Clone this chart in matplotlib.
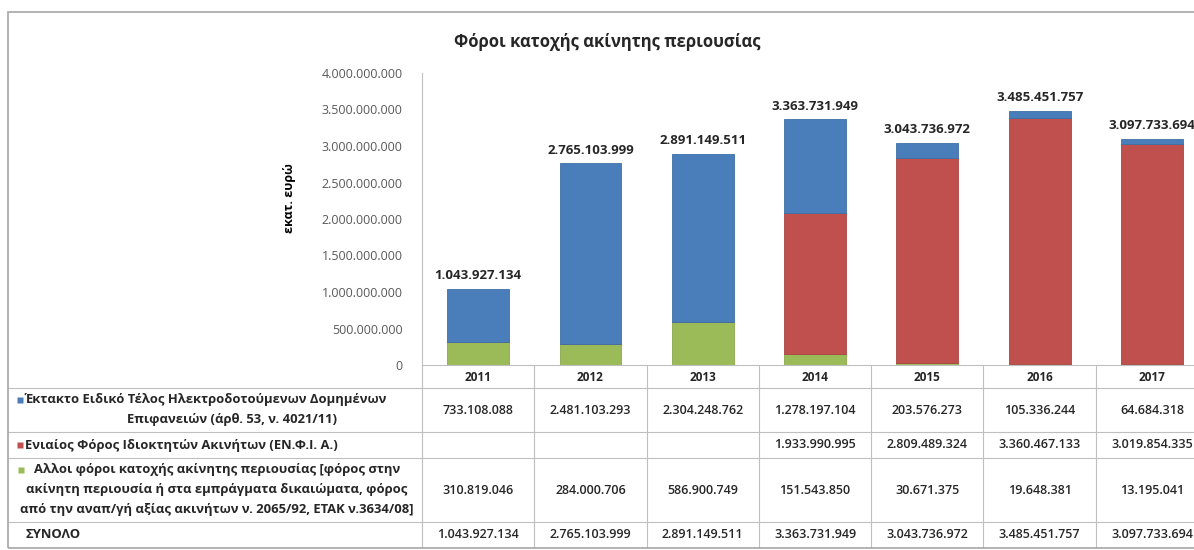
import matplotlib.pyplot as plt
from matplotlib.patches import Rectangle

plt.rcParams['font.family'] = ['Open Sans', 'DejaVu Sans']

years = ['2011', '2012', '2013', '2014', '2015', '2016', '2017']
ektakto = [733108088, 2481103293, 2304248762, 1278197104, 203576273, 105336244, 64684318]
enfia = [0, 0, 0, 1933990995, 2809489324, 3360467133, 3019854335]
alloi = [310819046, 284000706, 586900749, 151543850, 30671375, 19648381, 13195041]
totals = [1043927134, 2765103999, 2891149511, 3363731949, 3043736972, 3485451757, 3097733694]

row_labels = [
    ['Έκτακτο Ειδικό Τέλος Ηλεκτροδοτούμενων Δομημένων',
     'Επιφανειών (άρθ. 53, ν. 4021/11)'],
    ['Ενιαίος Φόρος Ιδιοκτητών Ακινήτων (ΕΝ.Φ.Ι. Α.)'],
    ['Αλλοι φόροι κατοχής ακίνητης περιουσίας [φόρος στην',
     'ακίνητη περιουσία ή στα εμπράγματα δικαιώματα, φόρος',
     'από την αναπ/γή αξίας ακινήτων ν. 2065/92, ΕΤΑΚ ν.3634/08]'],
    ['ΣΥΝΟΛΟ'],
]

blue = '#4a7ebb'
red = '#c0504d'
green = '#9bbb59'
gridc = '#bfbfbf'
txtc = '#262626'


def fmt(v):
    return f'{v:,}'.replace(',', '.')


W, H = 1194, 550
fig = plt.figure(figsize=(W / 100, H / 100), dpi=100)

# outer frame
fig.patches.append(Rectangle((8 / W, 2 / H), 1.2, (548 - 12) / H, transform=fig.transFigure,
                             fill=False, edgecolor='#a6a6a6', linewidth=1.2))

col_w = 112.3
x0 = 422
ax = fig.add_axes([x0 / W, (H - 365) / H, (W - x0) / W, (365 - 73) / H])
xs = range(len(years))
bw = 0.55
ax.bar(xs, alloi, bw, color=green, edgecolor='#8aa84e', linewidth=0.6)
ax.bar(xs, enfia, bw, bottom=alloi, color=red, edgecolor='#a94542', linewidth=0.6)
bottom2 = [a + b for a, b in zip(alloi, enfia)]
ax.bar(xs, ektakto, bw, bottom=bottom2, color=blue, edgecolor='#3f6fa6', linewidth=0.6)
for x, t in zip(xs, totals):
    ax.text(x, t + 90e6, fmt(t), ha='center', va='bottom', fontsize=9.5, fontweight='bold', color=txtc)

ax.set_xlim(-0.5, -0.5 + (W - x0) / col_w)
ax.set_ylim(0, 4e9)
ax.set_yticks([i * 5e8 for i in range(9)])
ax.set_yticklabels([fmt(int(i * 5e8)) for i in range(9)], fontsize=9, color='#595959')
ax.set_xticks([])
for s in ['top', 'right']:
    ax.spines[s].set_visible(False)
ax.spines['left'].set_color(gridc)
ax.spines['bottom'].set_color(gridc)
ax.tick_params(axis='y', length=0, pad=14)
ax.set_ylabel('εκατ. ευρώ', fontsize=9, fontweight='bold', labelpad=0)
ax.yaxis.set_label_coords(-126 / (W - x0), 0.57)
ax.patch.set_alpha(0)

fig.text(607 / W, 1 - 42 / H, 'Φόροι κατοχής ακίνητης περιουσίας', ha='center', va='center',
         fontsize=12, fontweight='bold', color=txtc)

# data table below the plot
tx0 = 8
tab = fig.add_axes([tx0 / W, (H - 548) / H, (W - tx0) / W, (548 - 365) / H])
tab.set_xlim(-0.5 - (x0 - tx0) / col_w, -0.5 + (W - x0) / col_w)
tab.set_ylim(548, 365)
tab.axis('off')

row_edges = [365, 388, 432, 458, 522, 548]
left_x = -0.5 - (x0 - tx0) / col_w
right_x = -0.5 + 7
for y in row_edges[1:-1]:
    tab.plot([left_x, right_x], [y, y], color=gridc, lw=0.8, clip_on=False)
tab.plot([-0.5, right_x], [548, 548], color=gridc, lw=0.8)
for k in range(8):
    tab.plot([k - 0.5, k - 0.5], [365, 548], color=gridc, lw=0.8)

for x, yr in zip(xs, years):
    tab.text(x, (row_edges[0] + row_edges[1]) / 2 + 1, yr, ha='center', va='center',
             fontsize=8.5, fontweight='bold', color=txtc)

series = [ektakto, enfia, alloi, totals]
for r, vals in enumerate(series):
    yc = (row_edges[r + 1] + row_edges[r + 2]) / 2
    for x, v in zip(xs, vals):
        if v:
            tab.text(x, yc, fmt(v), ha='center', va='center', fontsize=9,
                     fontweight='semibold', color=txtc)


def px(p):
    return left_x + (p - tx0) / col_w


# series labels with legend keys
lh = 20
lab_fs = 9.4
lab_w = 'bold'
# row 1
yc = (row_edges[1] + row_edges[2]) / 2
tab.plot(px(20), yc - lh / 2, marker='s', ms=4.5, color=blue, mec='none')
tab.text(px(25), yc - lh / 2, row_labels[0][0], ha='left', va='center', fontsize=lab_fs,
         fontweight=lab_w, color=txtc)
tab.text(px(232), yc + lh / 2, row_labels[0][1], ha='center', va='center', fontsize=lab_fs,
         fontweight=lab_w, color=txtc)
# row 2
yc = (row_edges[2] + row_edges[3]) / 2
tab.plot(px(20), yc, marker='s', ms=4.5, color=red, mec='none')
tab.text(px(25), yc, row_labels[1][0], ha='left', va='center', fontsize=lab_fs,
         fontweight=lab_w, color=txtc)
# row 3
yc = (row_edges[3] + row_edges[4]) / 2
tab.plot(px(21), yc - lh, marker='s', ms=4.5, color=green, mec='none')
for i, line in enumerate(row_labels[2]):
    tab.text(px(217), yc + (i - 1) * lh, line, ha='center', va='center', fontsize=lab_fs,
             fontweight=lab_w, color=txtc)
# row 4
yc = (row_edges[4] + row_edges[5]) / 2
tab.text(px(25), yc, row_labels[3][0], ha='left', va='center', fontsize=lab_fs,
         fontweight=lab_w, color=txtc)

fig.savefig('out.png', dpi=100)
